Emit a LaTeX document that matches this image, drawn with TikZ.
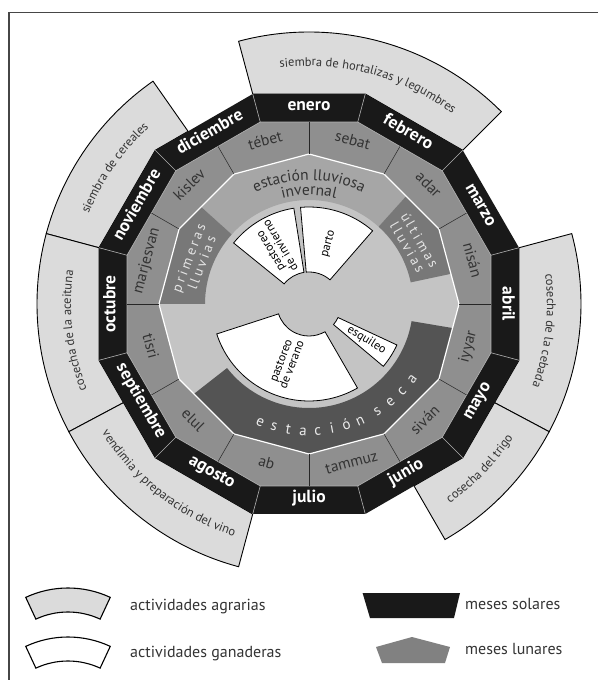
\documentclass[tikz,border=0pt]{standalone}
\usepackage{fontspec}
\setmainfont{PT Sans}
\usetikzlibrary{decorations.text}
\definecolor{agro}{gray}{0.86}
\definecolor{lunar}{gray}{0.56}
\definecolor{band}{gray}{0.65}
\definecolor{disc}{gray}{0.77}
\definecolor{rains}{gray}{0.47}
\definecolor{dry}{gray}{0.33}
\definecolor{solarblk}{gray}{0.1}
\definecolor{ink}{gray}{0.2}
\def\Rso{217.4}
\def\Rsi{188.4}
\def\Rlu{150}
\newcommand\agrofont{\fontsize{12.5}{13}\selectfont\color{ink}}
\newcommand\bandfont{\fontsize{15.5}{16}\selectfont\color{ink}}

\begin{document}
\begin{tikzpicture}[x=1pt,y=1pt,
  agrobox/.style={fill=agro, draw=black, line width=0.9},
  ganbox/.style={fill=white, draw=black, line width=0.8},
  solar/.style={text=white, font={\bfseries\fontsize{17.5}{17}\selectfont}, inner sep=0, text height=1ex, text depth=0pt},
  lunartxt/.style={text=ink, font={\fontsize{15.5}{16}\selectfont}, inner sep=0, text height=1ex, text depth=0pt},
  rainstxt/.style={text=white!90!black, font={\fontsize{14}{14}\selectfont\addfontfeature{LetterSpace=20}}, align=center, inner sep=0},
  gantxt/.style={text=black, font={\fontsize{12}{11.5}\selectfont}, align=center, inner sep=0},
  secaletter/.style={text=white!92!black, font={\fontsize{15}{15}\selectfont}, inner sep=0, text height=1ex, text depth=0pt},
  legtxt/.style={text=ink, font={\fontsize{16}{16}\selectfont}, anchor=west, inner sep=0, text height=1ex, text depth=0pt},
  agrolabel/.style={decorate, decoration={text along path, text align=center, text={|\agrofont|#1}}}
]
\useasboundingbox (-309,-376) rectangle (289,304);

% frame
\draw[gray!55!black, line width=1.5] (289,291.3) -- (-300,291.3) -- (-300,-376);

% agrarian activities
\draw[agrobox] (105:272) arc[start angle=105, end angle=45, radius=272] -- (45:\Rso) -- (75:\Rso) -- (105:\Rso) -- cycle;
\draw[agrobox] (125:272) arc[start angle=125, end angle=165, radius=272] -- (165:\Rso) -- (135:\Rso) -- (125:210.8) -- cycle;
\draw[agrobox] (165:272) arc[start angle=165, end angle=208, radius=272] -- (208:210.1) -- (195:\Rso) -- (165:\Rso) -- cycle;
\draw[agrobox] (208:272) arc[start angle=208, end angle=255, radius=272] -- (255:\Rso) -- (225:\Rso) -- (208:210.1) -- cycle;
\draw[agrobox] (15:272) arc[start angle=15, end angle=-28, radius=272] -- (-28:210.1) -- (-15:\Rso) -- (15:\Rso) -- cycle;
\draw[agrobox] (-28:272) arc[start angle=-28, end angle=-60, radius=272] -- (-60:210) -- (-45:\Rso) -- (-28:210.1) -- cycle;

\path[agrolabel={siembra de hortalizas y legumbres}] (105:238) arc[start angle=105, end angle=45, radius=238];
\path[agrolabel={siembra de cereales}] (165:238) arc[start angle=165, end angle=125, radius=238];
\path[agrolabel={cosecha de la aceituna}] (208:238) arc[start angle=208, end angle=165, radius=238];
\path[agrolabel={vendimia y preparación del vino}] (205:244) arc[start angle=205, end angle=259, radius=244];
\path[agrolabel={cosecha de la cebada}] (15:238) arc[start angle=15, end angle=-28, radius=238];
\path[agrolabel={cosecha del trigo}] (-62:244) arc[start angle=-62, end angle=-26, radius=244];

% rings
\fill[solarblk] (15:\Rso) \foreach \a in {45,75,...,345}{ -- (\a:\Rso)} -- cycle;
\fill[lunar] (15:\Rsi) \foreach \a in {45,75,...,345}{ -- (\a:\Rsi)} -- cycle;
\fill[disc] (0:\Rlu) \foreach \a in {30,60,...,330}{ -- (\a:\Rlu)} -- cycle;

% seasons
\begin{scope}
  \clip (0:\Rlu) \foreach \a in {30,60,...,330}{ -- (\a:\Rlu)} -- cycle;
  \fill[band] (48:104) arc[start angle=48, end angle=138, radius=104] -- (138:200) arc[start angle=138, end angle=48, radius=200] -- cycle;
  \fill[rains] (138:104) arc[start angle=138, end angle=180, radius=104] -- (180:200) arc[start angle=180, end angle=138, radius=200] -- cycle;
  \fill[rains] (12:104) arc[start angle=12, end angle=48, radius=104] -- (48:200) arc[start angle=48, end angle=12, radius=200] -- cycle;
  \fill[dry] (218:104) arc[start angle=218, end angle=350.5, radius=104] -- (350.5:200) arc[start angle=350.5, end angle=218, radius=200] -- cycle;
\end{scope}
\draw[white, line width=1.2, line join=round] (0:\Rlu) \foreach \a in {30,60,...,330}{ -- (\a:\Rlu)} -- cycle;

% dividers
\draw[gray!60, line width=0.6] (15:\Rsi) \foreach \a in {45,75,...,345}{ -- (\a:\Rsi)} -- cycle;
\foreach \a in {15,45,...,345}{
  \draw[gray!60, line width=0.6] (\a:\Rsi) -- (\a:\Rso);
}
\foreach \a in {0,30,...,330}{
  \draw[gray!30!black, line width=0.5] (\a:\Rlu) -- (\a:182);
}

% livestock activities
\foreach \p/\q in {99/141, 49/95, 198/300, 320/335}{
  \draw[ganbox] (\p:32) -- (\p:97) arc[start angle=\p, end angle=\q, radius=97] -- (\q:32) arc[start angle=\q, end angle=\p, radius=32] -- cycle;
}
\node[gantxt, rotate=121] (pinv) at (121:65) {pastoreo\\de invierno};
\node[gantxt, rotate=75] (parto) at (72:63) {parto};
\node[gantxt, rotate=69] (pver) at (249:63) {pastoreo\\de verano};
\node[gantxt, rotate=-32] (esq) at (-32:68) {esquileo};

% months
\foreach \m [count=\i from 0] in {enero,febrero,marzo,abril,mayo,junio,julio,agosto,septiembre,octubre,noviembre,diciembre}{
  \pgfmathsetmacro\ang{90-30*\i}
  \pgfmathsetmacro\rot{and(\i>3,\i<9) ? \ang+90 : \ang-90}
  \node[solar, rotate=\rot] (sol\i) at (\ang:196) {\m};
}
\foreach \m [count=\i from 0] in {sebat,adar,nisán,iyyar,siván,tammuz,ab,elul,tisri,marjesvan,kislev,tébet}{
  \pgfmathsetmacro\ang{75-30*\i}
  \pgfmathsetmacro\rot{and(\i>2,\i<9) ? \ang+90 : \ang-90}
  \node[lunartxt, rotate=\rot] (lun\i) at (\ang:166.5) {\m};
}

% seasons text
\path[decorate, decoration={text along path, text align=center, text={|\bandfont|estación lluviosa}}] (135:124) arc[start angle=135, end angle=45, radius=124];
\path[decorate, decoration={text along path, text align=center, text={|\bandfont|invernal}}] (125:109) arc[start angle=125, end angle=55, radius=109];
\node[rainstxt, rotate=69] (prim) at (159:122) {primeras\\lluvias};
\node[rainstxt, rotate=-60] (ult) at (30:121) {últimas\\lluvias};
\foreach \ch [count=\k from 0] in {e,s,t,a,c,i,ó,n}{
  \pgfmathsetmacro\ang{247.5+6.6*\k}
  \pgfmathsetmacro\rot{\ang+90}
  \node[secaletter, rotate=\rot] (sa\k) at (\ang:129) {\ch};
}
\foreach \ch [count=\k from 0] in {s,e,c,a}{
  \pgfmathsetmacro\ang{302.5+7.2*\k}
  \pgfmathsetmacro\rot{\ang+90}
  \node[secaletter, rotate=\rot] (sb\k) at (\ang:129) {\ch};
}

% legend
\begin{scope}[shift={(-241,-384)}]
  \draw[agrobox, line width=1.1] (65:100) arc[start angle=65, end angle=115, radius=100] -- (115:76) arc[start angle=115, end angle=65, radius=76] -- cycle;
\end{scope}
\begin{scope}[shift={(-241,-433)}]
  \draw[ganbox, line width=1.1] (65:100) arc[start angle=65, end angle=115, radius=100] -- (115:76) arc[start angle=115, end angle=65, radius=76] -- cycle;
\end{scope}
\node[legtxt] (lagr) at (-179,-304) {actividades agrarias};
\node[legtxt] (lgan) at (-179,-351) {actividades ganaderas};
\fill[solarblk] (53.6,-289) -- (151,-289) -- (145,-314) -- (61,-314) -- cycle;
\fill[lunar!90!black] (103,-333) -- (141,-343) -- (136,-359) -- (73,-359) -- (67,-343) -- cycle;
\node[legtxt] (lsol) at (156,-303) {meses solares};
\node[legtxt] (llun) at (156,-348) {meses lunares};
\end{tikzpicture}
\end{document}
